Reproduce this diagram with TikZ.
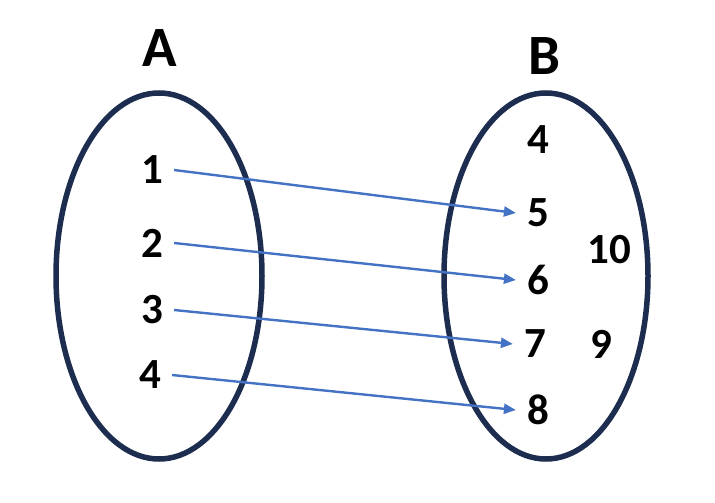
\documentclass[tikz,border=0pt]{standalone}
\usepackage{fontspec}
\setmainfont{Carlito}
\usetikzlibrary{arrows.meta}
\definecolor{navy}{HTML}{1C2D4F}
\definecolor{arrowblue}{HTML}{4472C4}
\begin{document}
\begin{tikzpicture}[x=1pt,y=-1pt,
  setring/.style={draw=navy,line width=5.5pt},
  num/.style={font=\bfseries\fontsize{43}{43}\selectfont,inner xsep=11pt,inner ysep=0pt},
  title/.style={font=\bfseries\fontsize{57}{57}\selectfont,inner sep=0pt},
  maparrow/.style={draw=arrowblue,line width=2.4pt,-{Triangle[length=12pt,width=10pt]}}]
\useasboundingbox (0,0) rectangle (715,503);
\draw[setring] (159,276) ellipse [x radius=103, y radius=183];
\draw[setring] (546,276) ellipse [x radius=102, y radius=183];
\node[title] (A) at (160,48) {A};
\node[title] (B) at (544,56) {B};
\node[num] (a1) at (152,170) {1};
\node[num] (a2) at (152,243) {2};
\node[num] (a3) at (152,310) {3};
\node[num] (a4) at (150,375) {4};
\node[num] (b4) at (538,140) {4};
\node[num] (b5) at (538,213) {5};
\node[num] (b6) at (538,280) {6};
\node[num] (b7) at (535,344) {7};
\node[num] (b8) at (538,410) {8};
\node[num] (b10) at (609,250) {10};
\node[num] (b9) at (601,344) {9};
\draw[maparrow] (a1.east) -- (b5.west);
\draw[maparrow] (a2.east) -- (b6.west);
\draw[maparrow] (a3.east) -- (b7.west);
\draw[maparrow] (a4.east) -- (b8.west);
\end{tikzpicture}
\end{document}
